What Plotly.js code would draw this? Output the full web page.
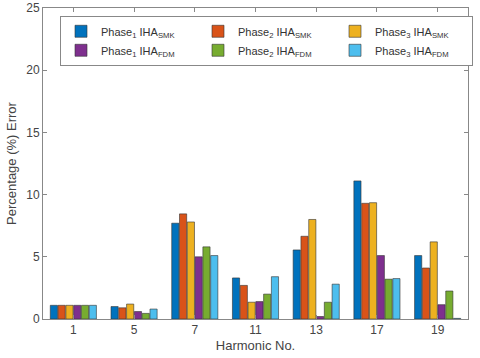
<!DOCTYPE html>
<html><head><meta charset="utf-8">
<script src="https://cdn.plot.ly/plotly-3.0.1.min.js"></script>
<style>html,body{margin:0;padding:0;background:#fff;}#chart{width:480px;height:358px;}</style>
</head><body><div id="chart"></div>
<script>
const harmonics = ['1','5','7','11','13','17','19'];
const seriesNames = [
  'Phase<sub>1</sub> IHA<sub>SMK</sub>',
  'Phase<sub>2</sub> IHA<sub>SMK</sub>',
  'Phase<sub>3</sub> IHA<sub>SMK</sub>',
  'Phase<sub>1</sub> IHA<sub>FDM</sub>',
  'Phase<sub>2</sub> IHA<sub>FDM</sub>',
  'Phase<sub>3</sub> IHA<sub>FDM</sub>'
];
const phase1SMK = [1.1, 1.0, 7.7, 3.3, 5.55, 11.1, 5.1];
const phase2SMK = [1.1, 0.9, 8.45, 2.7, 6.65, 9.3, 4.1];
const phase3SMK = [1.1, 1.2, 7.8, 1.35, 8.0, 9.35, 6.2];
const phase1FDM = [1.1, 0.6, 5.0, 1.4, 0.2, 5.1, 1.15];
const phase2FDM = [1.1, 0.45, 5.8, 2.0, 1.35, 3.2, 2.25];
const phase3FDM = [1.1, 0.8, 5.1, 3.4, 2.8, 3.25, 0.05];
const colors = ['#0072BD','#D95319','#EDB120','#7E2F8E','#77AC30','#4DBEEE'];
const allSeries = [phase1SMK, phase2SMK, phase3SMK, phase1FDM, phase2FDM, phase3FDM];

const traces = allSeries.map((v, i) => ({
  type: 'bar', x: harmonics, y: v, name: seriesNames[i],
  marker: {color: colors[i], line: {color: '#333', width: 0.6}}
}));

const axisFont = {family: 'Liberation Sans, Arial, sans-serif', size: 12, color: '#444'};
const layout = {
  width: 480, height: 358,
  margin: {l: 43, r: 7, t: 8, b: 39},
  paper_bgcolor: '#fff', plot_bgcolor: '#fff',
  barmode: 'group', bargap: 0.23, bargroupgap: 0.08,
  font: axisFont,
  showlegend: true,
  legend: {
    orientation: 'h', x: 0.04, y: 0.975, xanchor: 'left', yanchor: 'top',
    bordercolor: '#888', borderwidth: 1, bgcolor: '#fff',
    entrywidth: 92, entrywidthmode: 'pixels', tracegroupgap: 0,
    font: {family: 'Liberation Sans, Arial, sans-serif', size: 11, color: '#333'},
    traceorder: 'normal'
  },
  xaxis: {
    type: 'category', showline: true, linecolor: '#888', linewidth: 1, mirror: 'ticks',
    ticks: 'inside', ticklen: 4, tickcolor: '#888', showgrid: false, zeroline: false,
    tickfont: axisFont,
    title: {text: 'Harmonic No.', font: {family: 'Liberation Sans, Arial, sans-serif', size: 13, color: '#444'}, standoff: 4}
  },
  yaxis: {
    range: [0, 25], tickvals: [0,5,10,15,20,25], showline: true, linecolor: '#888', linewidth: 1, mirror: 'ticks',
    ticks: 'inside', ticklen: 4, tickcolor: '#888', showgrid: false, zeroline: false,
    tickfont: axisFont,
    title: {text: 'Percentage (%) Error', font: {family: 'Liberation Sans, Arial, sans-serif', size: 13, color: '#444'}, standoff: 6}
  }
};
Plotly.newPlot('chart', traces, layout, {displayModeBar: false, staticPlot: true});
</script></body></html>
